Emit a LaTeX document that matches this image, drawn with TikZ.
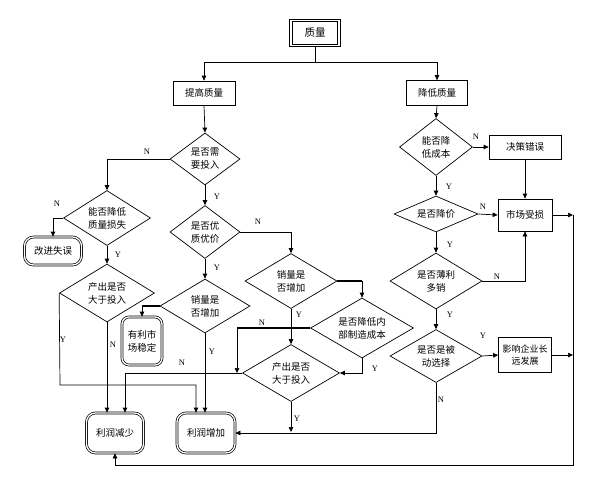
\documentclass[tikz,border=0pt]{standalone}
\usepackage{fontspec}
\newfontfamily\cjk{Noto Sans CJK SC}
\setmainfont{Liberation Serif}
\usetikzlibrary{shapes.geometric,arrows.meta,calc}
\begin{document}
\begin{tikzpicture}[x=1pt,y=-1pt,line width=0.7pt,
 every node/.style={font=\cjk\fontsize{9.5}{11}\selectfont},
 box/.style={draw, rectangle, inner sep=0pt, align=center},
 dia/.style={draw, diamond, inner sep=0pt},
 dtxt/.style={align=center, inner sep=0pt, font=\cjk\fontsize{9.5}{13}\selectfont},
 term/.style={draw, double, double distance=1.3pt, rounded corners=9pt, inner sep=0pt, align=center},
 arr/.style={-{Triangle[length=5pt,width=4.5pt]}},
 yn/.style={font=\rmfamily\fontsize{8.5}{9}\selectfont, inner sep=0pt},
 heavy/.style={line width=1.4pt}]
\useasboundingbox (0,0) rectangle (610,477);

% top
\node[box, double, double distance=1.5pt, line width=0.8pt, minimum width=48pt, minimum height=25pt, font=\cjk\fontsize{10.5}{12}\selectfont] (q) at (315,33) {质量};
\node[box, minimum width=62pt, minimum height=24pt] (tg) at (204,93) {提高质量};
\node[box, minimum width=61pt, minimum height=25pt] (jd) at (437,93) {降低质量};
\coordinate (qs) at (315,62);
\draw (q.south) -- (qs);
\draw[arr] (qs) -| (tg.north);
\draw[arr] (qs) -| (jd.north);

% left branch
\node[dia, minimum width=70pt, minimum height=52pt, label={[dtxt]center:{是否需\\要投入}}] (d1) at (205,159) {};
\node[dia, minimum width=87pt, minimum height=55pt, label={[dtxt]center:{能否降低\\质量损失}}] (d2) at (107,218) {};
\node[term, minimum width=57pt, minimum height=28pt] (gj) at (53,251) {改进失误};
\node[dia, minimum width=95pt, minimum height=58pt, label={[dtxt]center:{产出是否\\大于投入}}] (d3) at (107,293) {};
\node[dia, minimum width=70pt, minimum height=53pt, label={[dtxt]center:{是否优\\质优价}}] (d4) at (205,232) {};
\node[dia, minimum width=90pt, minimum height=54pt, label={[dtxt]center:{销量是\\否增加}}] (d5) at (205,306) {};
\node[term, minimum width=40pt, minimum height=48pt, rounded corners=7pt, font=\cjk\fontsize{9.5}{13}\selectfont] (ym) at (142,341) {有利市\\场稳定};
\node[dia, minimum width=92pt, minimum height=55pt, label={[dtxt]center:{销量是\\否增加}}] (d6) at (291,281) {};
\node[dia, minimum width=103pt, minimum height=60pt, label={[dtxt]center:{是否降低内\\部制造成本}}] (d7) at (362,328) {};
\node[dia, minimum width=97pt, minimum height=57pt, label={[dtxt]center:{产出是否\\大于投入}}] (d8) at (291,373) {};
\node[term, minimum width=57pt, minimum height=40pt] (ls) at (115,433) {利润减少};
\node[term, minimum width=58pt, minimum height=40pt] (lz) at (206,433) {利润增加};

% right branch
\node[dia, minimum width=73pt, minimum height=57pt, label={[dtxt]center:{能否降\\低成本}}] (d9) at (436,147) {};
\node[box, minimum width=72pt, minimum height=24pt] (jc) at (525,147) {决策错误};
\node[dia, minimum width=84pt, minimum height=36pt, label={[dtxt]center:{是否降价}}] (d10) at (436,214) {};
\node[box, minimum width=54pt, minimum height=32pt] (sc) at (525,215) {市场受损};
\node[dia, minimum width=92pt, minimum height=56pt, label={[dtxt]center:{是否薄利\\多销}}] (d12) at (436,281) {};
\node[dia, minimum width=92pt, minimum height=53pt, label={[dtxt]center:{是否是被\\动选择}}] (d11) at (436,356) {};
\node[box, minimum width=53pt, minimum height=35pt, font=\cjk\fontsize{9}{12.5}\selectfont] (yx) at (525,355) {影响企业长\\远发展};

\coordinate (r1) at (573,215);
\coordinate (r2) at (573,355);
\coordinate (r3) at (573,465);
\coordinate (j1) at (237,373);
\coordinate (j2) at (291,432);

% connectors left
\draw[arr] (tg.south) -- (d1.north);
\draw[arr] (d1.west) -| (d2.north);
\draw[arr] (d2.west) -| (gj.north);
\draw[arr] (d2.south) -- (d3.north);
\draw[arr] (d3.west) -- (60,385) -| ([xshift=-10pt]lz.north);
\draw[arr] (d3.south) -- (d3.south |- ls.north);
\draw[arr] (d1.south) -- (d4.north);
\draw[arr] (d4.east) -| (d6.north);
\draw[arr] (d4.south) -- (d5.north);
\draw[heavy] (d5.west) -- (d5.west -| ym.north);
\draw[arr] (d5.west -| ym.north) -- (ym.north);
\draw[arr] (d5.south) -- (d5.south |- lz.north);
\draw[heavy] (d6.east) -- (d6.east -| d7.north);
\draw[arr] (d6.east -| d7.north) -- (d7.north);
\draw[arr] (d6.south) -- (d8.north);
\draw[heavy] (d7.west) -- (d7.west -| j1);
\draw[arr] (d7.west -| j1) -- (j1);
\draw[arr] (d8.west) -| ([xshift=10pt]ls.north);
\draw[arr] (d7.south) |- (d8.east);
\draw[arr] (d8.south) -- (j2);
\draw[arr] (d11.south) |- (lz.east);

% connectors right
\draw[arr] (jd.south) -- (d9.north);
\draw[arr] (d9.east) -- (jc.west);
\draw[arr] (jc.south) -- (sc.north);
\draw[arr] (d9.south) -- (d10.north);
\draw[arr] (d10.east) -- (sc.west);
\draw[arr] (d12.east) -| (sc.south);
\draw[arr] (d10.south) -- (d12.north);
\draw[arr] (d12.south) -- (d11.north);
\draw[arr] (d11.east) -- (yx.west);
\draw[arr] (sc.east) -- (r1);
\draw[arr] (yx.east) -- (r2);
\draw[arr] (r1) -- (r3) -| (ls.south);

% Y/N labels
\node[yn] (l1) at (147,152) {N};
\node[yn] (l2) at (57,204) {N};
\node[yn] (l3) at (118,255) {Y};
\node[yn] (l4) at (63,340) {Y};
\node[yn] (l5) at (113,345) {N};
\node[yn] (l6) at (217,197) {Y};
\node[yn] (l7) at (258,222) {N};
\node[yn] (l8) at (217,268) {Y};
\node[yn] (l9) at (212,352) {Y};
\node[yn] (l10) at (182,363) {N};
\node[yn] (l11) at (262,323) {N};
\node[yn] (l12) at (299,315) {Y};
\node[yn] (l13) at (375,369) {Y};
\node[yn] (l14) at (297,419) {Y};
\node[yn] (l15) at (476,137) {N};
\node[yn] (l16) at (449,187) {Y};
\node[yn] (l17) at (483,207) {N};
\node[yn] (l18) at (450,245) {Y};
\node[yn] (l19) at (497,277) {N};
\node[yn] (l20) at (450,315) {Y};
\node[yn] (l21) at (483,336) {Y};
\node[yn] (l22) at (441,400) {N};
\end{tikzpicture}
\end{document}
